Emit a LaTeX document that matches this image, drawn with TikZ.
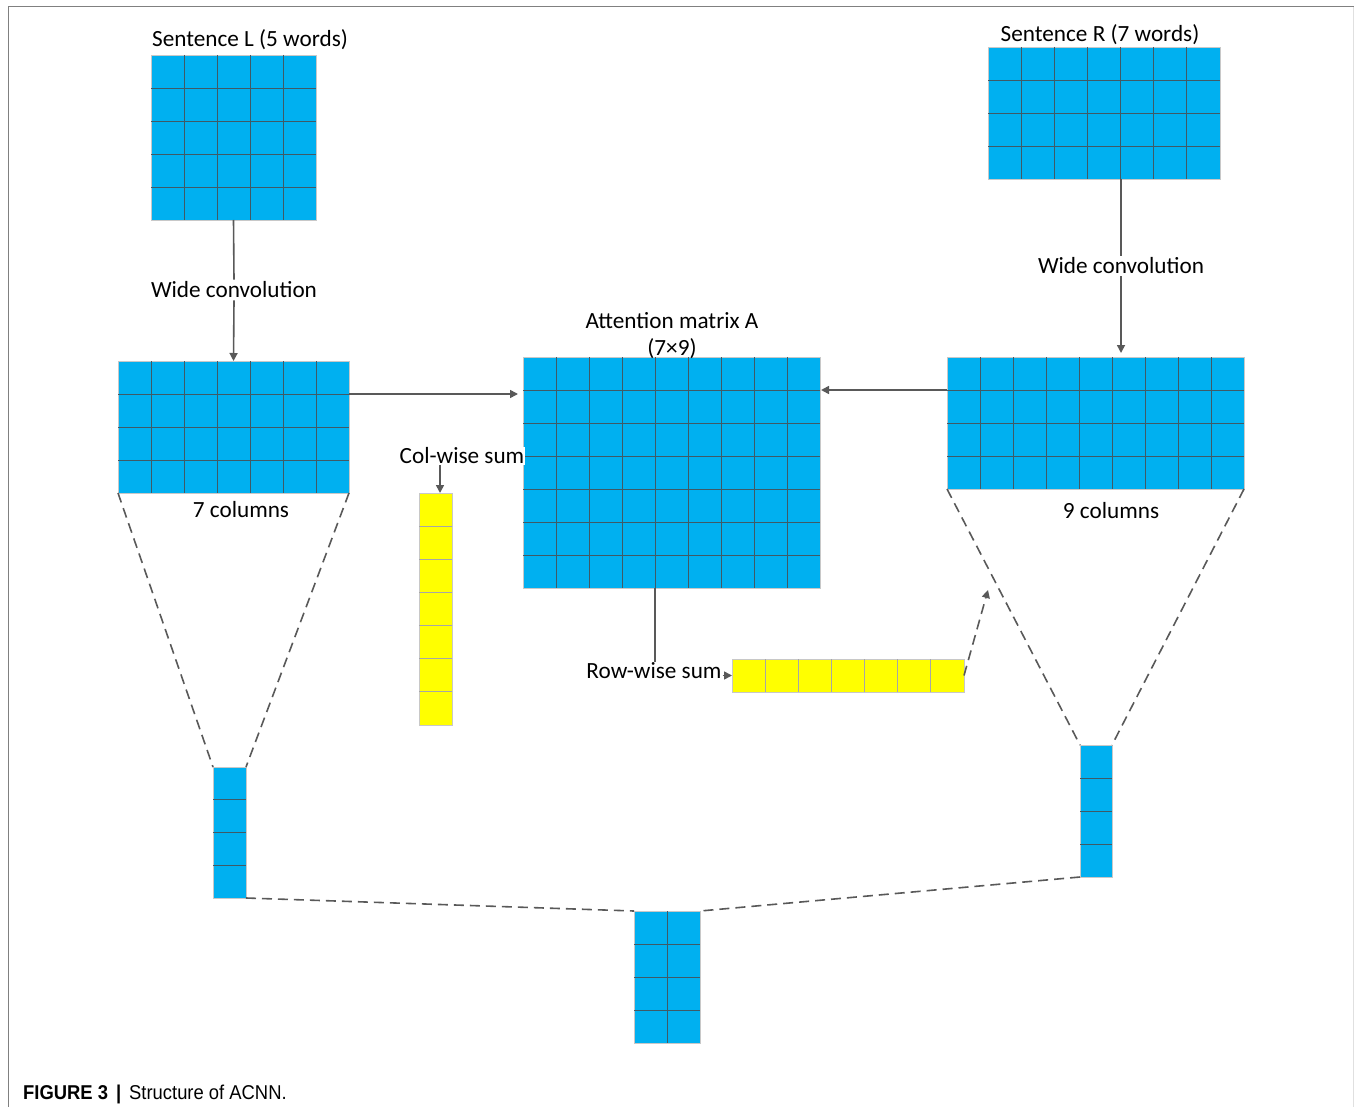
\documentclass[tikz,border=0pt]{standalone}
\usepackage{fontspec}
\setmainfont{Carlito}
\newfontfamily\capfont[FakeStretch=0.92]{Liberation Sans}
\usetikzlibrary{calc,arrows.meta}
\definecolor{cellblue}{HTML}{00B0F0}
\definecolor{cellyellow}{HTML}{FFFF00}
\definecolor{conn}{HTML}{595959}
\definecolor{gridc}{HTML}{3F5A66}
\definecolor{edgec}{HTML}{C8C8C8}
\tikzset{
  bmat/.style={rectangle, fill=cellblue, draw=edgec, line width=0.8pt, inner sep=0pt, outer sep=0pt, anchor=north west},
  ymat/.style={rectangle, fill=cellyellow, draw=edgec, line width=0.8pt, inner sep=0pt, outer sep=0pt, anchor=north west},
  gridline/.style={draw=gridc, line width=0.8pt},
  ygridline/.style={draw=black!35, line width=0.8pt},
  lbl/.style={inner sep=2pt, font=\fontsize{23.2}{28}\selectfont, align=center},
  cline/.style={draw=conn, line width=1.6pt},
  carrow/.style={draw=conn, line width=1.6pt, -{Triangle[length=8pt,width=8pt]}},
  dline/.style={draw=conn, line width=1.6pt, dash pattern=on 10pt off 6pt},
}
\newcommand\cellgrid[4]{% name, cols, rows, style
  \ifnum#2>1
    \pgfmathtruncatemacro\lastc{#2-1}
    \foreach \k in {1,...,\lastc}{\draw[#4] ($(#1.north west)!\k/#2!(#1.north east)$) -- ($(#1.south west)!\k/#2!(#1.south east)$);}
  \fi
  \ifnum#3>1
    \pgfmathtruncatemacro\lastr{#3-1}
    \foreach \k in {1,...,\lastr}{\draw[#4] ($(#1.north west)!\k/#3!(#1.south west)$) -- ($(#1.north east)!\k/#3!(#1.south east)$);}
  \fi
}
\begin{document}
\begin{tikzpicture}[x=1pt,y=-1pt]
\useasboundingbox (0,0) rectangle (1354,1107);
% frame
\draw[draw=black!50, line width=1pt] (8,1107) -- (8,7) -- (1354,7);
\draw[draw=black!12, line width=1pt] (1353,7) -- (1353,1107);

% matrices
\node[bmat, minimum width=165pt, minimum height=165pt] (sl) at (151,55) {};
\cellgrid{sl}{5}{5}{gridline}
\node[bmat, minimum width=232pt, minimum height=132pt] (sr) at (988,47) {};
\cellgrid{sr}{7}{4}{gridline}
\node[bmat, minimum width=231pt, minimum height=132pt] (lc) at (118,361) {};
\cellgrid{lc}{7}{4}{gridline}
\node[bmat, minimum width=297pt, minimum height=132pt] (rc) at (947,357) {};
\cellgrid{rc}{9}{4}{gridline}
\node[bmat, minimum width=297pt, minimum height=231pt] (A) at (523,357) {};
\cellgrid{A}{9}{7}{gridline}
\node[ymat, minimum width=33pt, minimum height=232pt] (ycol) at (419,493) {};
\cellgrid{ycol}{1}{7}{ygridline}
\node[ymat, minimum width=232pt, minimum height=33pt] (yrow) at (732,659) {};
\cellgrid{yrow}{7}{1}{ygridline}
\node[bmat, minimum width=33pt, minimum height=131pt] (lsm) at (213,767) {};
\cellgrid{lsm}{1}{4}{gridline}
\node[bmat, minimum width=32pt, minimum height=132pt] (rsm) at (1080,745) {};
\cellgrid{rsm}{1}{4}{gridline}
\node[bmat, minimum width=66pt, minimum height=132pt] (bm) at (634,911) {};
\cellgrid{bm}{2}{4}{gridline}

% labels
\node[lbl] (slt) at (250,40) {Sentence L (5 words)};
\node[lbl] (srt) at (1100,35) {Sentence R (7 words)};
\node[lbl] (wcl) at (234,290) {Wide convolution};
\node[lbl] (wcr) at (1121,266) {Wide convolution};
\node[lbl] (At) at (672,336) {Attention matrix A\\[-1pt](7×9)};
\node[lbl] (lct) at (241,510) {7 columns};
\node[lbl] (rct) at (1111,511) {9 columns};
\node[lbl, fill=white, inner sep=1pt] (cws) at (462,456) {Col-wise sum};
\node[lbl, inner sep=1pt] (rws) at (654,671) {Row-wise sum};

% connectors
\draw[cline] (sl.south) -- (wcl.north);
\draw[carrow] (wcl.south) -- (lc.north);
\draw[cline] ([xshift=17pt]sr.south) -- (wcr.north);
\draw[carrow, shorten >=4pt] (wcr.south) -- (wcr.south |- rc.north);
\draw[carrow, shorten >=5pt] ([yshift=-33pt]lc.north east) -- ([yshift=-37pt]A.north west);
\draw[carrow, shorten >=1pt] ([yshift=-33pt]rc.north west) -- ([yshift=-33pt]A.north east);
\draw[carrow] ([xshift=4.5pt]cws.south -| ycol.north) -- ([xshift=4.5pt]ycol.north);
\draw[cline] ([xshift=-16.5pt]A.south) -- ([xshift=-16.5pt]A.south |- rws.north);
\draw[carrow] (rws.east |- yrow.west) -- (yrow.west);
\coordinate (dtip) at (988,590);
\draw[dline, -{Triangle[length=8pt,width=8pt]}] (yrow.east) -- (dtip);

\draw[dline] (lc.south west) -- (lsm.north west);
\draw[dline] (lc.south east) -- (lsm.north east);
\draw[dline] (rc.south west) -- (rsm.north west);
\draw[dline] (rc.south east) -- (rsm.north east);
\draw[dline] (lsm.south east) -- (bm.north west);
\draw[dline] (rsm.south west) -- (bm.north east);

% caption
\node[anchor=base west, inner sep=0pt] (cap) at (23,1099) {\capfont\fontsize{20}{22}\selectfont\textbf{FIGURE 3}\hspace{0.4em}\textbf{|}\hspace{0.4em}Structure of ACNN.};
\end{tikzpicture}
\end{document}
